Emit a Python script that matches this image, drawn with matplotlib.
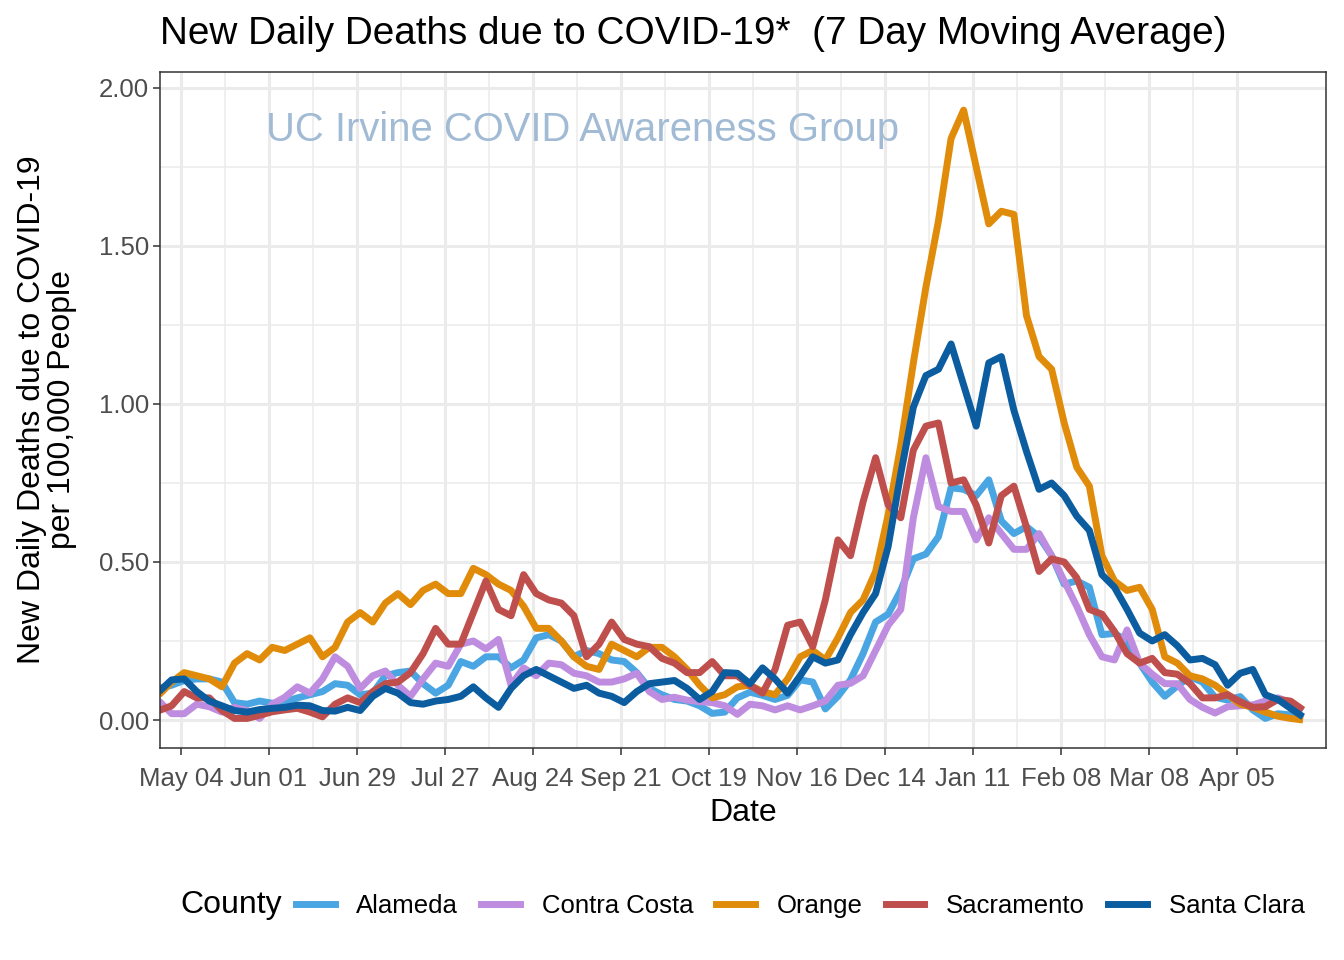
import numpy as np
import pandas as pd
import matplotlib
matplotlib.use("Agg")
import matplotlib.pyplot as plt
import matplotlib.dates as mdates
from matplotlib.lines import Line2D

plt.rcParams['font.family'] = ['Liberation Sans', 'DejaVu Sans']

# 7 day moving average of new daily deaths per 100,000, read every 4 days
dates = pd.date_range("2020-04-27", periods=92, freq="4D")

alameda = [0.10, 0.11, 0.125, 0.13, 0.13, 0.12, 0.055, 0.05, 0.06, 0.053,
           0.058, 0.07, 0.08, 0.09, 0.115, 0.11, 0.08, 0.085, 0.14, 0.15,
           0.155, 0.115, 0.085, 0.11, 0.185, 0.17, 0.20, 0.20, 0.165, 0.19,
           0.26, 0.27, 0.25, 0.20, 0.22, 0.21, 0.19, 0.185, 0.15, 0.10,
           0.08, 0.065, 0.06, 0.045, 0.021, 0.025, 0.07, 0.088, 0.078, 0.065,
           0.078, 0.127, 0.12, 0.035, 0.075, 0.127, 0.21, 0.31, 0.335, 0.41,
           0.51, 0.525, 0.58, 0.735, 0.73, 0.71, 0.76, 0.63, 0.59, 0.612,
           0.58, 0.52, 0.43, 0.44, 0.42, 0.27, 0.274, 0.25, 0.18, 0.12,
           0.075, 0.108, 0.137, 0.12, 0.072, 0.063, 0.074, 0.032, 0.005, 0.02,
           0.016, 0.005]
contra_costa = [0.06, 0.02, 0.02, 0.05, 0.042, 0.025, 0.04, 0.03, 0.005, 0.05,
                0.072, 0.105, 0.085, 0.13, 0.2, 0.17, 0.1, 0.14, 0.155, 0.11,
                0.075, 0.13, 0.18, 0.17, 0.24, 0.25, 0.225, 0.255, 0.11, 0.165,
                0.14, 0.18, 0.175, 0.148, 0.14, 0.12, 0.12, 0.13, 0.148, 0.09,
                0.065, 0.072, 0.063, 0.058, 0.055, 0.045, 0.018, 0.05, 0.045, 0.032,
                0.045, 0.032, 0.045, 0.06, 0.11, 0.116, 0.14, 0.22, 0.30, 0.35,
                0.64, 0.83, 0.675, 0.66, 0.66, 0.57, 0.64, 0.59, 0.54, 0.54,
                0.59, 0.52, 0.44, 0.36, 0.27, 0.2, 0.19, 0.285, 0.18, 0.145,
                0.115, 0.115, 0.065, 0.04, 0.022, 0.042, 0.045, 0.048, 0.06, 0.07,
                0.055, 0.03]
orange = [0.08, 0.12, 0.15, 0.14, 0.13, 0.105, 0.18, 0.21, 0.19, 0.23,
          0.22, 0.24, 0.26, 0.20, 0.23, 0.31, 0.34, 0.31, 0.37, 0.40,
          0.365, 0.41, 0.43, 0.40, 0.40, 0.48, 0.46, 0.43, 0.41, 0.36,
          0.29, 0.29, 0.25, 0.20, 0.17, 0.16, 0.24, 0.22, 0.20, 0.23,
          0.23, 0.20, 0.16, 0.11, 0.07, 0.08, 0.105, 0.11, 0.09, 0.08,
          0.13, 0.20, 0.22, 0.19, 0.26, 0.34, 0.38, 0.47, 0.65, 0.87,
          1.13, 1.37, 1.58, 1.84, 1.93, 1.75, 1.57, 1.61, 1.60, 1.28,
          1.15, 1.11, 0.94, 0.80, 0.74, 0.52, 0.44, 0.41, 0.42, 0.35,
          0.20, 0.18, 0.14, 0.13, 0.11, 0.08, 0.05, 0.04, 0.025, 0.012,
          0.005, 0.0]
sacramento = [0.03, 0.045, 0.09, 0.07, 0.07, 0.03, 0.005, 0.005, 0.015, 0.026,
              0.032, 0.037, 0.025, 0.01, 0.05, 0.07, 0.055, 0.09, 0.115, 0.12,
              0.15, 0.21, 0.29, 0.24, 0.24, 0.34, 0.44, 0.35, 0.33, 0.46,
              0.40, 0.38, 0.37, 0.33, 0.20, 0.24, 0.31, 0.255, 0.24, 0.232,
              0.195, 0.18, 0.15, 0.15, 0.185, 0.14, 0.14, 0.11, 0.085, 0.16,
              0.30, 0.31, 0.232, 0.38, 0.57, 0.52, 0.69, 0.83, 0.68, 0.64,
              0.854, 0.93, 0.94, 0.75, 0.76, 0.68, 0.56, 0.71, 0.74, 0.61,
              0.47, 0.51, 0.50, 0.45, 0.35, 0.335, 0.28, 0.21, 0.18, 0.195,
              0.15, 0.145, 0.116, 0.07, 0.07, 0.08, 0.058, 0.04, 0.042, 0.065,
              0.06, 0.032]
santa_clara = [0.09, 0.127, 0.13, 0.09, 0.06, 0.045, 0.03, 0.025, 0.033, 0.037,
               0.04, 0.047, 0.045, 0.03, 0.028, 0.04, 0.03, 0.075, 0.10, 0.085,
               0.055, 0.05, 0.06, 0.065, 0.075, 0.105, 0.07, 0.04, 0.10, 0.14,
               0.16, 0.14, 0.12, 0.10, 0.11, 0.085, 0.075, 0.055, 0.09, 0.115,
               0.12, 0.125, 0.10, 0.065, 0.09, 0.15, 0.148, 0.115, 0.165, 0.13,
               0.085, 0.14, 0.20, 0.18, 0.19, 0.27, 0.34, 0.40, 0.55, 0.78,
               0.99, 1.09, 1.11, 1.19, 1.06, 0.93, 1.13, 1.15, 0.98, 0.85,
               0.73, 0.75, 0.71, 0.645, 0.60, 0.46, 0.42, 0.35, 0.275, 0.25,
               0.27, 0.235, 0.19, 0.195, 0.175, 0.11, 0.148, 0.16, 0.08, 0.065,
               0.037, 0.01]

counties = ["Alameda", "Contra Costa", "Orange", "Sacramento", "Santa Clara"]
series = [alameda, contra_costa, orange, sacramento, santa_clara]
colors = ["#4AA6E2", "#BF8DE0", "#E08C0A", "#BF4F4C", "#0B5DA0"]

tick_dates = pd.date_range("2020-05-04", periods=13, freq="28D")

fig = plt.figure(figsize=(13.44, 9.6), dpi=100)
ax = fig.add_axes([160/1344, 1-748/960, 1166/1344, 676/960])

for name, vals, c in zip(counties, series, colors):
    ax.plot(dates, vals, color=c, lw=5, solid_capstyle="butt", solid_joinstyle="round", label=name)

t0 = pd.Timestamp("2020-04-27")
ax.set_xlim(t0 + pd.Timedelta(days=0.3), t0 + pd.Timedelta(days=371.3))
ax.set_ylim(-0.0886, 2.0506)

ax.set_xticks(tick_dates)
ax.xaxis.set_major_formatter(mdates.DateFormatter("%b %d"))
ax.set_xticks(tick_dates[:-1] + pd.Timedelta(days=14), minor=True)
ax.set_yticks([0, 0.5, 1.0, 1.5, 2.0])
ax.set_yticklabels(["0.00", "0.50", "1.00", "1.50", "2.00"])
ax.set_yticks([0.25, 0.75, 1.25, 1.75], minor=True)

ax.grid(which="major", color="#EBEBEB", lw=2.2)
ax.grid(which="minor", color="#EBEBEB", lw=1.1)
ax.set_axisbelow(True)
for s in ax.spines.values():
    s.set_color("#333333")
    s.set_linewidth(1.1)
ax.tick_params(which="major", length=5, width=1.1, color="#333333",
               labelsize=18.5, labelcolor="#4D4D4D", pad=3)
ax.tick_params(axis="x", which="major", pad=9)
ax.tick_params(which="minor", length=0)

ax.set_xlabel("Date", fontsize=23, labelpad=5)

ax.text(pd.Timestamp("2020-05-31"), 1.867, "UC Irvine COVID Awareness Group",
        color="#A2BBD5", fontsize=28.8, ha="left", va="center")

fig.text(47/1344, 1-410/960, "New Daily Deaths due to COVID-19\nper 100,000 People",
         rotation=90, ha="center", va="center", fontsize=23, linespacing=1.0,
         multialignment="center")
fig.text(160/1344, 1-34/960, "New Daily Deaths due to COVID-19*  (7 Day Moving Average)",
         ha="left", va="center", fontsize=27.9)

fig.text(180/1344, 1-905/960, "County", ha="left", va="center", fontsize=23)
handles = [Line2D([0], [0], color=c, lw=5) for c in colors]
fig.legend(handles, counties, loc="center left", bbox_to_anchor=(296/1344, 1-906/960),
           ncol=5, frameon=False, fontsize=18.5, handlelength=1.5,
           handletextpad=0.85, columnspacing=0.9, borderaxespad=0, borderpad=0)

fig.savefig("out.png", dpi=100)
